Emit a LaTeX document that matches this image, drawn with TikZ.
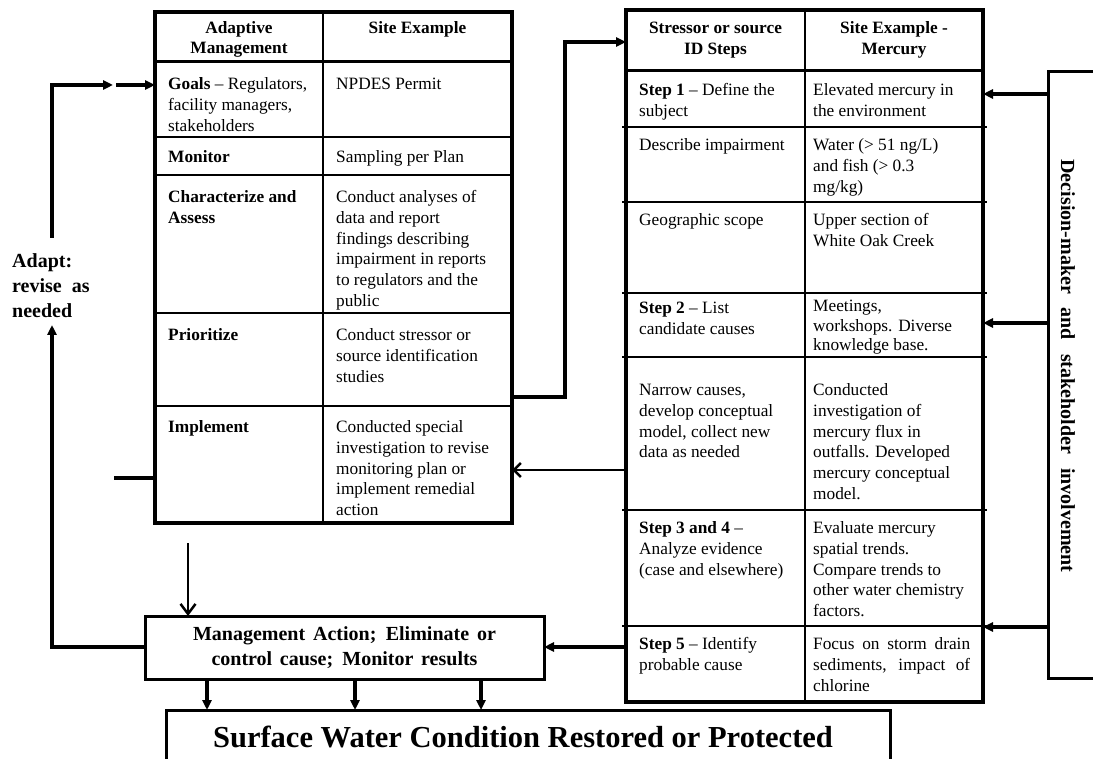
\documentclass[tikz,border=0pt]{standalone}
\usepackage{fontspec}
\setmainfont{Liberation Serif}
\usetikzlibrary{arrows.meta}
\newcommand{\bodyfont}{\fontsize{17.3}{20.7}\selectfont}
\newcommand{\bigfnt}{\fontsize{20}{25}\selectfont\bfseries}
\newcommand{\hugefnt}{\fontsize{30.5}{36}\selectfont\bfseries}
\begin{document}
\begin{tikzpicture}[x=1pt,y=-1pt,
  cell/.style={anchor=north west, inner sep=0pt, align=left, font=\bodyfont},
  tight/.style={font=\fontsize{17.3}{19.5}\selectfont},
  head/.style={anchor=north, inner sep=0pt, align=center, font=\bodyfont\bfseries},
  tbl/.style={draw, line width=3.5pt, inner sep=0pt, outer sep=0pt, anchor=north west},
  box/.style={draw, line width=3pt, inner sep=0pt, outer sep=0pt, anchor=north west},
  rule/.style={line width=1.4pt},
  hrule/.style={line width=3pt},
  conn/.style={line width=3.5pt},
  fa/.style={-{Triangle[length=10pt,width=9pt]}},
  barb/.style={-{Straight Barb[length=7pt,width=14pt,line width=2.5pt]}}
]
\useasboundingbox (0,0) rectangle (1093,759);
\fill[white] (0,0) rectangle (1093,759);

% ---------- Left table ----------
\node[tbl, minimum width=357, minimum height=511] (LT) at (155,12) {};
\draw[hrule] (LT.west |- 0,62) -- (LT.east |- 0,62);
\foreach \yy in {137,175,313,406}
  \draw[rule] (LT.west |- 0,\yy) -- (LT.east |- 0,\yy);
\draw[rule] (323,12) -- (323,523);

\node[head] (lh1) at (239,18.5) {\strut Adaptive\\Management};
\node[head] (lh2) at (417.5,18.5) {\strut Site Example};

\node[cell] (l1a) at (168,75) {\strut\textbf{Goals} – Regulators,\\facility managers,\\stakeholders};
\node[cell] (l1b) at (336,75) {\strut NPDES Permit};
\node[cell] (l2a) at (168,148) {\strut\textbf{Monitor}};
\node[cell] (l2b) at (336,148) {\strut Sampling per Plan};
\node[cell] (l3a) at (168,188) {\strut\textbf{Characterize and}\\\textbf{Assess}};
\node[cell] (l3b) at (336,188) {\strut Conduct analyses of\\data and report\\findings describing\\impairment in reports\\to regulators and the\\public};
\node[cell] (l4a) at (168,326) {\strut\textbf{Prioritize}};
\node[cell] (l4b) at (336,326) {\strut Conduct stressor or\\source identification\\studies};
\node[cell] (l5a) at (168,418) {\strut\textbf{Implement}};
\node[cell] (l5b) at (336,418) {\strut Conducted special\\investigation to revise\\monitoring plan or\\implement remedial\\action};

% ---------- Right table ----------
\node[tbl, minimum width=357, minimum height=692] (RT) at (626,10) {};
\draw[hrule] (RT.west |- 0,71) -- (RT.east |- 0,71);
\foreach \yy in {127,202,293,357,510,626}
  \draw[rule] (622,\yy) -- (987,\yy);
\draw[rule] (805,10) -- (805,702);

\node[head] (rh1) at (715.5,19) {\strut Stressor or source\\ID Steps};
\node[head] (rh2) at (894,19) {\strut Site Example -\\Mercury};

\node[cell] (r1a) at (639,81) {\strut\textbf{Step 1} – Define the\\subject};
\node[cell] (r1b) at (813,81) {\strut Elevated mercury in\\the environment};
\node[cell] (r2a) at (639,136) {\strut Describe impairment};
\node[cell] (r2b) at (813,136) {\strut Water (> 51 ng/L)\\and fish (> 0.3\\mg/kg)};
\node[cell] (r3a) at (639,211) {\strut Geographic scope};
\node[cell] (r3b) at (813,211) {\strut Upper section of\\White Oak Creek};
\node[cell] (r4a) at (639,299) {\strut\textbf{Step 2} – List\\candidate causes};
\node[cell, tight] (r4b) at (813,298) {\strut Meetings,\\workshops. Diverse\\knowledge base.};
\node[cell] (r5a) at (639,381) {\strut Narrow causes,\\develop conceptual\\model, collect new\\data as needed};
\node[cell] (r5b) at (813,381) {\strut Conducted\\investigation of\\mercury flux in\\outfalls. Developed\\mercury conceptual\\model.};
\node[cell] (r6a) at (639,519) {\strut\textbf{Step 3 and 4} –\\Analyze evidence\\(case and elsewhere)};
\node[cell] (r6b) at (813,519) {\strut Evaluate mercury\\spatial trends.\\Compare trends to\\other water chemistry\\factors.};
\node[cell] (r7a) at (639,635) {\strut\textbf{Step 5} – Identify\\probable cause};
\node[cell] (r7b) at (813,635) {\strut\makebox[157pt][s]{Focus on storm drain}\\\makebox[157pt][s]{sediments, impact of}\\chlorine};

% ---------- Decision-maker box ----------
\node[box, minimum width=60, minimum height=606] (DM) at (1048,72) {};
\node[inner sep=0pt, rotate=-90, font=\bigfnt] (DMt) at (1068,366)
  {\makebox[413pt][s]{Decision-maker and stakeholder involvement}};

% ---------- Management box ----------
\node[box, minimum width=399, minimum height=63] (MA) at (145,616) {};
\node[inner sep=0pt, align=center, font=\bigfnt] (MAt) at (MA.center)
  {\makebox[303pt][s]{Management Action; Eliminate or}\\\makebox[266pt][s]{control cause; Monitor results}};

% ---------- Surface water box ----------
\node[box, minimum width=724, minimum height=52] (SW) at (166,710) {};
\node[inner sep=0pt, font=\hugefnt, anchor=base] (SWt) at (523,747)
  {Surface Water Condition Restored or Protected};

% ---------- Adapt label ----------
\node[anchor=north west, inner sep=0pt, align=left, font=\bigfnt] (AD) at (12,249.5)
  {\strut Adapt:\\revise\ \ as\\needed};

% ---------- Connectors ----------
\coordinate (cA) at (565,42);
\draw[conn, fa] (LT.east |- 0,397) -| (cA) -- (RT.west |- cA);

\draw[line width=2.5pt, barb] (RT.west |- 0,470) -- (LT.east |- 0,470);
\draw[conn, fa] (RT.west |- 0,647) -- (MA.east |- 0,647);

\draw[conn, fa] (DM.west |- 0,94) -- (RT.east |- 0,94);
\draw[conn, fa] (DM.west |- 0,323) -- (RT.east |- 0,323);
\draw[conn, fa] (DM.west |- 0,627) -- (RT.east |- 0,627);

\coordinate (cB) at (188,543);
\draw[line width=2.5pt, -{Straight Barb[length=10pt,width=15pt,line width=2.5pt]}] (cB) -- (MA.north -| cB);

\foreach \xx in {207,355,481}
  \draw[conn, fa] (MA.south -| \xx,0) -- (SW.north -| \xx,0);

\coordinate (cC) at (114,478);
\draw[conn] (cC) -- (LT.west |- cC);

\coordinate (cD) at (52,647);
\draw[conn, fa] (MA.west |- cD) -- (cD) -- (52,325);
\coordinate (cE) at (52,238);
\coordinate (cF) at (113,85);
\draw[conn, fa] (cE) |- (cF);
\coordinate (cG) at (116,85);
\draw[conn, fa] (cG) -- (LT.west |- cG);
\end{tikzpicture}
\end{document}
